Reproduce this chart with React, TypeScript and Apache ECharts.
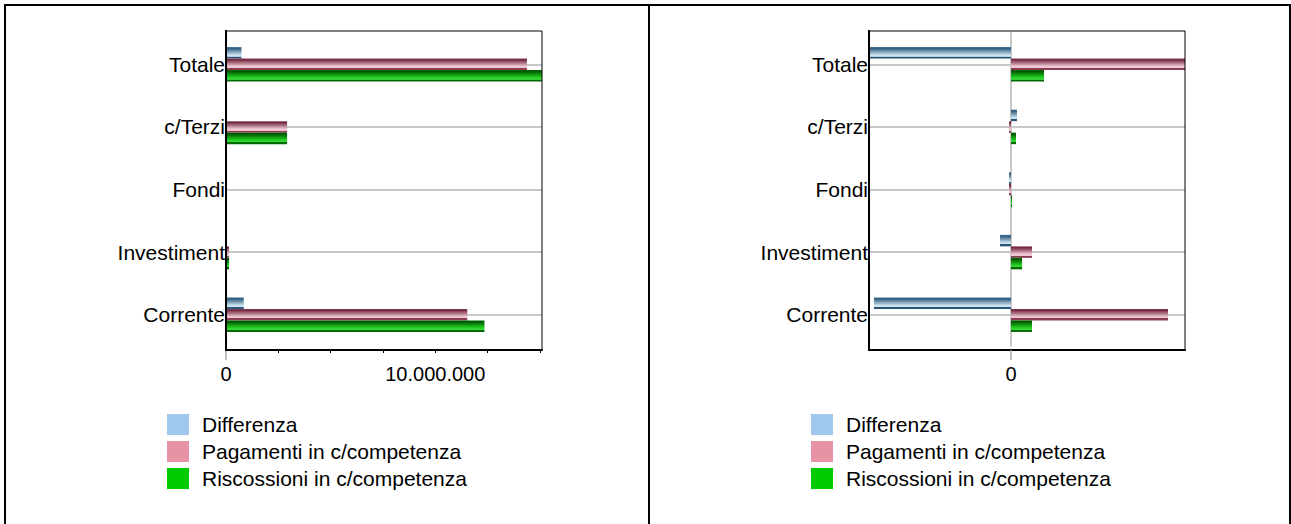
import React, { useEffect, useRef } from 'react';
import * as echarts from 'echarts';

const categories = ['Totale', 'c/Terzi', 'Fondi', 'Investiment', 'Corrente'];
const seriesNames = ['Differenza', 'Pagamenti in c/competenza', 'Riscossioni in c/competenza'];

// Left chart values
const leftDifferenza = [740000, 20000, 8000, 15000, 850000];
const leftPagamenti = [14380000, 2920000, 40000, 140000, 11530000];
const leftRiscossioni = [15100000, 2920000, 30000, 150000, 12350000];

// Right chart values
const rightDifferenza = [-1420000, 60000, -20000, -110000, -1370000];
const rightPagamenti = [1740000, -20000, -20000, 210000, 1570000];
const rightRiscossioni = [330000, 50000, 10000, 110000, 210000];

const leftMax = 15100000;
const leftTickStep = 2500000;
const leftGridStep = 10000000;
const rightMin = -1420000;
const rightMax = 1740000;

const FONT = '"Liberation Sans", Arial, sans-serif';

export default function App() {
  const ref = useRef<HTMLDivElement>(null);
  useEffect(() => {
    const chart = echarts.init(ref.current as HTMLDivElement, null, { renderer: 'svg' });
    const grad = (stops: [number, string][]) =>
      new echarts.graphic.LinearGradient(
        0, 0, 0, 1,
        stops.map(([offset, color]) => ({ offset, color }))
      );
    const colors = [
      grad([[0, '#4c7c9c'], [0.1, '#2c5a7c'], [0.7, '#cae2f0'], [0.82, '#d2e8f3'], [0.83, '#2a5474'], [1, '#2a5474']]),
      grad([[0, '#8a4058'], [0.1, '#70263d'], [0.7, '#f3ccd7'], [0.82, '#efc0cc'], [0.83, '#8a3c52'], [1, '#8a3c52']]),
      grad([[0, '#007000'], [0.1, '#005400'], [0.6, '#20c820'], [0.82, '#40e040'], [0.83, '#006a00'], [1, '#006a00']]),
    ];
    const legendColors = ['#9fc8ec', '#e693a6', '#00cc00'];
    const leftData = [leftDifferenza, leftPagamenti, leftRiscossioni];
    const rightData = [rightDifferenza, rightPagamenti, rightRiscossioni];

    const catAxis = (gridIndex: number) => ({
      gridIndex,
      type: 'category',
      data: categories,
      inverse: true,
      position: 'left',
      axisLine: { show: false, onZero: false },
      axisTick: { show: false },
      axisLabel: { margin: 1, fontSize: 21, color: '#000', fontFamily: FONT },
      splitLine: { show: true, alignWithLabel: true, lineStyle: { color: '#c8c8c8', width: 2 } },
      z: 1,
    });

    const mkSeries = (data: number[][], xi: number, yi: number) =>
      data.map((vals, i) => ({
        name: seriesNames[i],
        type: 'bar',
        xAxisIndex: xi,
        yAxisIndex: yi,
        data: vals,
        barWidth: 11.5,
        barGap: '0%',
        itemStyle: { color: colors[i] },
        z: 3,
      }));

    const mkLegend = (left: number) => ({
      left,
      top: 414,
      padding: 0,
      orient: 'vertical',
      icon: 'rect',
      itemWidth: 22,
      itemHeight: 21,
      itemGap: 6,
      selectedMode: false,
      textStyle: { fontSize: 21, color: '#000', fontFamily: FONT, padding: [0, 0, 0, 8] },
      data: seriesNames.map((n, i) => ({ name: n, itemStyle: { color: legendColors[i] } })),
    });

    const frame = (x: number) => [
      { type: 'rect', shape: { x, y: 31, width: 316, height: 319 }, style: { fill: 'none', stroke: '#000', lineWidth: 1 }, z: 10 },
      { type: 'line', shape: { x1: x, y1: 30, x2: x, y2: 351 }, style: { stroke: '#000', lineWidth: 2 }, z: 10 },
    ];

    const option: any = {
      animation: false,
      backgroundColor: '#fff',
      textStyle: { fontFamily: FONT },
      grid: [
        { left: 226, top: 33, width: 316, height: 313 },
        { left: 869, top: 33, width: 316, height: 313 },
      ],
      xAxis: [
        {
          gridIndex: 0,
          type: 'value',
          position: 'bottom',
          offset: 4,
          min: 0,
          max: leftMax,
          interval: leftTickStep,
          axisLine: { show: true, lineStyle: { color: '#000', width: 2 } },
          axisTick: { show: true, length: 3, lineStyle: { color: '#000', width: 1 } },
          axisLabel: {
            margin: 14,
            fontSize: 20,
            color: '#000',
            fontFamily: FONT,
            showMaxLabel: false,
            formatter: (v: number) => (v === 0 ? '0' : v === 10000000 ? '10.000.000' : ''),
          },
          splitLine: { show: false },
        },
        {
          gridIndex: 0,
          type: 'value',
          position: 'bottom',
          offset: 4,
          min: 0,
          max: leftMax,
          interval: leftGridStep,
          axisLine: { show: false },
          axisTick: { show: true, customValues: [0], length: 10, lineStyle: { color: '#c0c0c0', width: 2 } },
          axisLabel: { show: false },
          splitLine: { show: true, lineStyle: { color: '#c8c8c8', width: 2 } },
          z: 0,
        },
        {
          gridIndex: 1,
          type: 'value',
          position: 'bottom',
          offset: 4,
          min: rightMin,
          max: rightMax,
          axisLine: { show: true, lineStyle: { color: '#000', width: 2 } },
          axisTick: { show: true, customValues: [0], length: 10, lineStyle: { color: '#c0c0c0', width: 2 } },
          axisLabel: {
            customValues: [0],
            margin: 14,
            fontSize: 20,
            color: '#000',
            fontFamily: FONT,
            formatter: (v: number) => (v === 0 ? '0' : ''),
          },
          splitLine: { show: false },
        },
      ],
      yAxis: [
        catAxis(0),
        catAxis(1),
        {
          gridIndex: 1,
          type: 'category',
          data: categories,
          inverse: true,
          position: 'right',
          axisLine: { show: true, onZero: true, lineStyle: { color: '#c8c8c8', width: 2 } },
          axisTick: { show: false },
          axisLabel: { show: false },
          splitLine: { show: false },
          z: 0,
        },
      ],
      legend: [mkLegend(167), mkLegend(811)],
      series: [...mkSeries(leftData, 0, 0), ...mkSeries(rightData, 2, 1)],
      graphic: [
        ...frame(226),
        ...frame(869),
        { type: 'line', shape: { x1: 5, y1: 5, x2: 1291, y2: 5 }, style: { stroke: '#000', lineWidth: 2 } },
        { type: 'line', shape: { x1: 5, y1: 4, x2: 5, y2: 524 }, style: { stroke: '#000', lineWidth: 2 } },
        { type: 'line', shape: { x1: 649, y1: 4, x2: 649, y2: 524 }, style: { stroke: '#000', lineWidth: 2 } },
        { type: 'line', shape: { x1: 1290, y1: 4, x2: 1290, y2: 524 }, style: { stroke: '#000', lineWidth: 2 } },
      ],
    };
    chart.setOption(option);
    return () => chart.dispose();
  }, []);
  return (
    <div
      ref={ref}
      style={{ position: 'fixed', left: 0, top: 0, width: 1291, height: 524, background: '#fff' }}
    />
  );
}
